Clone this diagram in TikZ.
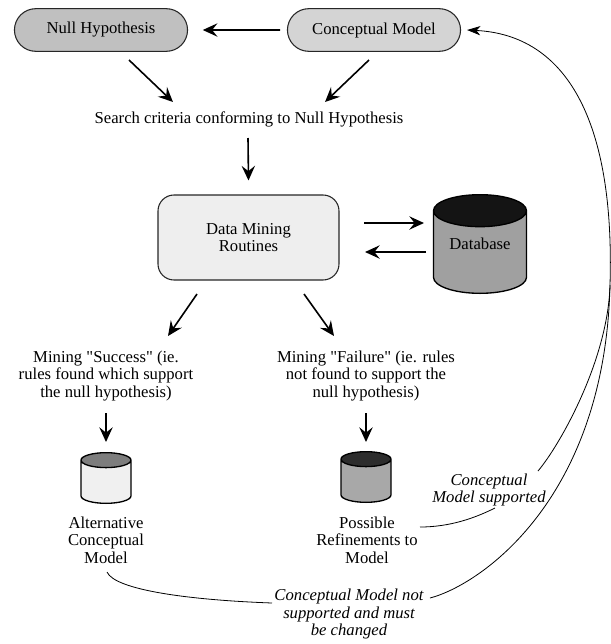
\documentclass[tikz,border=0pt]{standalone}
\usepackage{fontspec}
\setmainfont{Liberation Serif}
\newfontfamily\diagfont{Liberation Serif}
\usepackage{tikz}
\usetikzlibrary{shapes.geometric, shapes.misc, arrows.meta, calc}
\definecolor{nullgray}{RGB}{192,192,192}
\definecolor{conceptgray}{RGB}{212,212,212}
\definecolor{routinegray}{RGB}{238,238,238}
\definecolor{dbbody}{RGB}{160,160,160}
\definecolor{altbody}{RGB}{240,240,240}
\definecolor{altend}{RGB}{125,125,125}
\definecolor{refbody}{RGB}{168,168,168}
\definecolor{refend}{RGB}{45,45,45}
\tikzset{every node/.style={font=\diagfont\fontsize{12.5}{13}\selectfont}}

\begin{document}
\begin{tikzpicture}[x=0.75pt, y=-0.75pt]
    % Define styles
    \tikzstyle{pillbox} = [rounded rectangle, minimum width=136.5pt, minimum height=32pt, text centered, draw=black!85, line width=0.8pt]
    \tikzstyle{routinebox} = [rectangle, rounded corners=12pt, minimum width=135.75pt, minimum height=63.75pt, align=center, draw=black!85, line width=0.8pt, fill=routinegray]
    \tikzstyle{storecyl} = [cylinder, shape border rotate=90, anchor=shape center, aspect=1, draw=black, line width=1pt, cylinder uses custom fill]
    \tikzstyle{notetext} = [align=center, font=\diagfont\fontsize{12.5}{13}\selectfont\itshape]
    \tikzstyle{arrow} = [line width=1.2pt, -{Stealth[length=11pt, width=10pt, inset=4pt]}]
    \tikzstyle{feedback} = [line width=0.6pt]

    \useasboundingbox (0,0) rectangle (611,644);

    % Hypothesis tier
    \node (null) [pillbox, fill=nullgray] at (101,30) {Null Hypothesis};
    \node (concept) [pillbox, fill=conceptgray] at (374,30) {Conceptual Model};
    \node (search) at (249,119) {Search criteria conforming to Null Hypothesis};

    % Mining layer
    \node (routines) [routinebox] at (248.5,237.5) {Data Mining\\Routines};
    \node (database) [storecyl, inner xsep=12pt, minimum width=69.75pt, minimum height=74pt, cylinder body fill=dbbody, cylinder end fill=black!92] at (480,244) {};
    \node (dbtext) at (database.shape center) {Database};

    % Outcomes
    \node (success) [align=center] at (106,376) {Mining \textquotedbl Success\textquotedbl{} (ie.\\rules found which support\\the null hypothesis)};
    \node (failure) [align=center] at (366,376) {Mining \textquotedbl Failure\textquotedbl{} (ie. rules\\not found to support the\\null hypothesis)};
    \node (altstore) [storecyl, inner xsep=5.6pt, minimum width=37.5pt, minimum height=38pt, cylinder body fill=altbody, cylinder end fill=altend] at (106,478) {};
    \node (refstore) [storecyl, inner xsep=5.6pt, minimum width=37.5pt, minimum height=38pt, cylinder body fill=refbody, cylinder end fill=refend] at (366,477) {};
    \node (alttext) [align=center] at (106,540) {Alternative\\Conceptual\\Model};
    \node (reftext) [align=center] at (367,540) {Possible\\Refinements to\\Model};

    % Feedback labels
    \node (notsup) [notetext] at (349,614) {Conceptual Model not\\supported and must\\be changed};
    \node (supp) [notetext] at (489,490) {Conceptual\\Model supported};
    \coordinate (merge) at (610,285);

    % Main flow
    \draw [arrow, shorten <=5pt, shorten >=11pt] (concept) -- (null);
    \draw [arrow] ($(null)+(28,30)$) -- ($(search)+(-76,-17)$);
    \draw [arrow] ($(concept)+(-5,30)$) -- ($(search)+(76,-17)$);
    \draw [arrow] ($(search)+(-1,19)$) -- ($(routines)+(0,-57)$);

    % Database exchange
    \draw [arrow] ($(routines)+(115.5,-14.5)$) -- ($(database.shape center)+(-56,-21)$);
    \draw [arrow] ($(database.shape center)+(-54,8)$) -- ($(routines)+(116.5,14.5)$);

    % Outcomes of mining
    \draw [arrow] ($(routines)+(-51.5,56.5)$) -- ($(success)+(62,-40)$);
    \draw [arrow] ($(routines)+(55.5,56.5)$) -- ($(failure)+(-32,-40)$);
    \draw [arrow] ($(success)+(0,37)$) -- ($(altstore.shape center)+(0,-36)$);
    \draw [arrow] ($(failure)+(0,37)$) -- ($(refstore.shape center)+(0,-35)$);

    % Feedback to the conceptual model
    \draw [feedback] ($(alttext)+(1,32)$) .. controls +(8,18) and +(-83,-3) .. ($(notsup)+(-77,-11)$);
    \draw [feedback, -{Stealth[length=10pt, width=7pt, inset=3pt]}] ($(notsup)+(81,-16)$) .. controls +(50,-13) and +(-5,215) .. (merge) .. controls +(5,-165) and +(99,5) .. ($(concept.east)+(6,0)$);
    \draw [feedback] ($(reftext)+(53,-13)$) .. controls +(30,0) and +(-20,10) .. ($(supp)+(6,18)$);
    \draw [feedback] ($(supp)+(49,-19)$) .. controls +(22,-26) and +(-2,75) .. (merge);
\end{tikzpicture}
\end{document}
